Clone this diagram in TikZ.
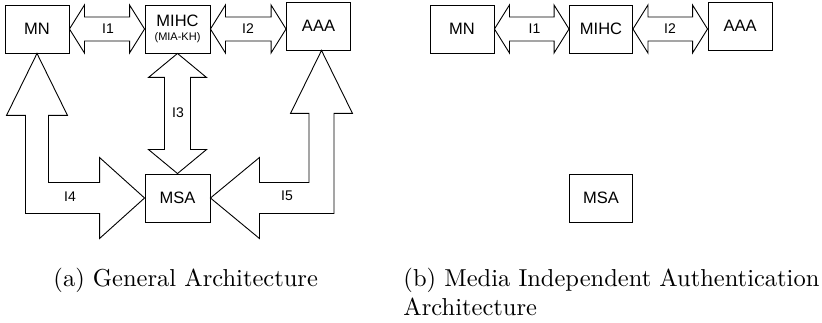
\documentclass[tikz,border=0pt]{standalone}
\usepackage{fontspec}
\setsansfont{Liberation Sans}
\usetikzlibrary{calc}

\begin{document}
\begin{tikzpicture}[
    x=1pt, y=-1pt,
    sys_box/.style={rectangle, draw, line width=0.9pt, minimum width=64pt, minimum height=48pt, inner sep=1pt, font=\sffamily\fontsize{16.5}{19}\selectfont},
    block_arrow/.style={draw, line width=0.9pt, line join=miter},
    iface_label/.style={font=\sffamily\fontsize{14}{16}\selectfont},
    caption_text/.style={anchor=base west, inner sep=0pt, scale=2.45, font=\fontsize{10}{12}\selectfont}
]
    \useasboundingbox (0,0) rectangle (822,323);

    % (a) general architecture
    \node[sys_box] (MN) at (37,29) {MN};
    \node[sys_box, minimum width=65pt, align=center, font=\sffamily\fontsize{16.5}{14.5}\selectfont] (MIHC) at (177.5,29) {MIHC\\{\fontsize{11}{12}\selectfont (MIA-KH)}};
    \node[sys_box] (AAA) at (318.5,26) {AAA};
    \node[sys_box, minimum width=65pt] (MSA) at (177.5,198) {MSA};
    \coordinate (AAAtip) at ([xshift=3pt]AAA.south);

    \draw[block_arrow] (MN.east) -- ++(15,-24) -- ++(0,12) -- ([shift={(-15,-12)}]MIHC.west) -- ++(0,-12) -- (MIHC.west)
        -- ++(-15,24) -- ++(0,-12) -- ([shift={(15,12)}]MN.east) -- ++(0,12) -- cycle;
    \draw[block_arrow] (MIHC.east) -- ++(15,-24) -- ++(0,12) -- ([shift={(-15,-12)}]MIHC.east -| AAA.west) -- ++(0,-12) -- (MIHC.east -| AAA.west)
        -- ++(-15,24) -- ++(0,-12) -- ([shift={(15,12)}]MIHC.east) -- ++(0,12) -- cycle;
    \draw[block_arrow] (MIHC.south) -- ++(29,24) -- ++(-16,0) -- ([shift={(13,-24)}]MSA.north) -- ++(16,0) -- (MSA.north)
        -- ++(-29,-24) -- ++(16,0) -- ([shift={(-13,24)}]MIHC.south) -- ++(-16,0) -- cycle;
    \draw[block_arrow] (MN.south) -- ++(30.5,62) -- ++(-19,0) |- ([shift={(-45,-15.5)}]MSA.west) -- ++(0,-25) -- (MSA.west)
        -- ++(-45,40.5) -- ++(0,-25) -| ([shift={(-11.5,62)}]MN.south) -- ++(-19,0) -- cycle;
    \draw[block_arrow] (AAAtip) -- ++(-31,63) -- ++(18.5,0) |- ([shift={(49,-15.5)}]MSA.east) -- ++(0,-25) -- (MSA.east)
        -- ++(49,40.5) -- ++(0,-25) -| ([shift={(12.5,63)}]AAAtip) -- ++(18.5,0) -- cycle;

    \node[iface_label] (I1) at (108,29) {I1};
    \node[iface_label] (I2) at (248,29) {I2};
    \node[iface_label] (I3) at (178,112.5) {I3};
    \node[iface_label] (I4) at (70,197) {I4};
    \node[iface_label] (I5) at (287,196) {I5};

    % (b) media independent authentication architecture
    \node[sys_box] (bMN) at (462,29) {MN};
    \node[sys_box, minimum width=63pt] (bMIHC) at (601,29) {MIHC};
    \node[sys_box] (bAAA) at (740,26) {AAA};
    \node[sys_box, minimum width=63pt] (bMSA) at (601,198) {MSA};

    \draw[block_arrow] (bMN.east) -- ++(15,-24) -- ++(0,12) -- ([shift={(-15,-12)}]bMIHC.west) -- ++(0,-12) -- (bMIHC.west)
        -- ++(-15,24) -- ++(0,-12) -- ([shift={(15,12)}]bMN.east) -- ++(0,12) -- cycle;
    \draw[block_arrow] (bMIHC.east) -- ++(15,-24) -- ++(0,12) -- ([shift={(-15,-12)}]bMIHC.east -| bAAA.west) -- ++(0,-12) -- (bMIHC.east -| bAAA.west)
        -- ++(-15,24) -- ++(0,-12) -- ([shift={(15,12)}]bMIHC.east) -- ++(0,12) -- cycle;

    \node[iface_label] (bI1) at (534.5,29) {I1};
    \node[iface_label] (bI2) at (670,29) {I2};

    % captions
    \node[caption_text] (capa) at (53,287) {(a) General Architecture};
    \node[caption_text] (capb) at (403,287) {(b) Media Independent Authentication};
    \node[caption_text] (capb2) at (403,315) {Architecture};
\end{tikzpicture}
\end{document}
